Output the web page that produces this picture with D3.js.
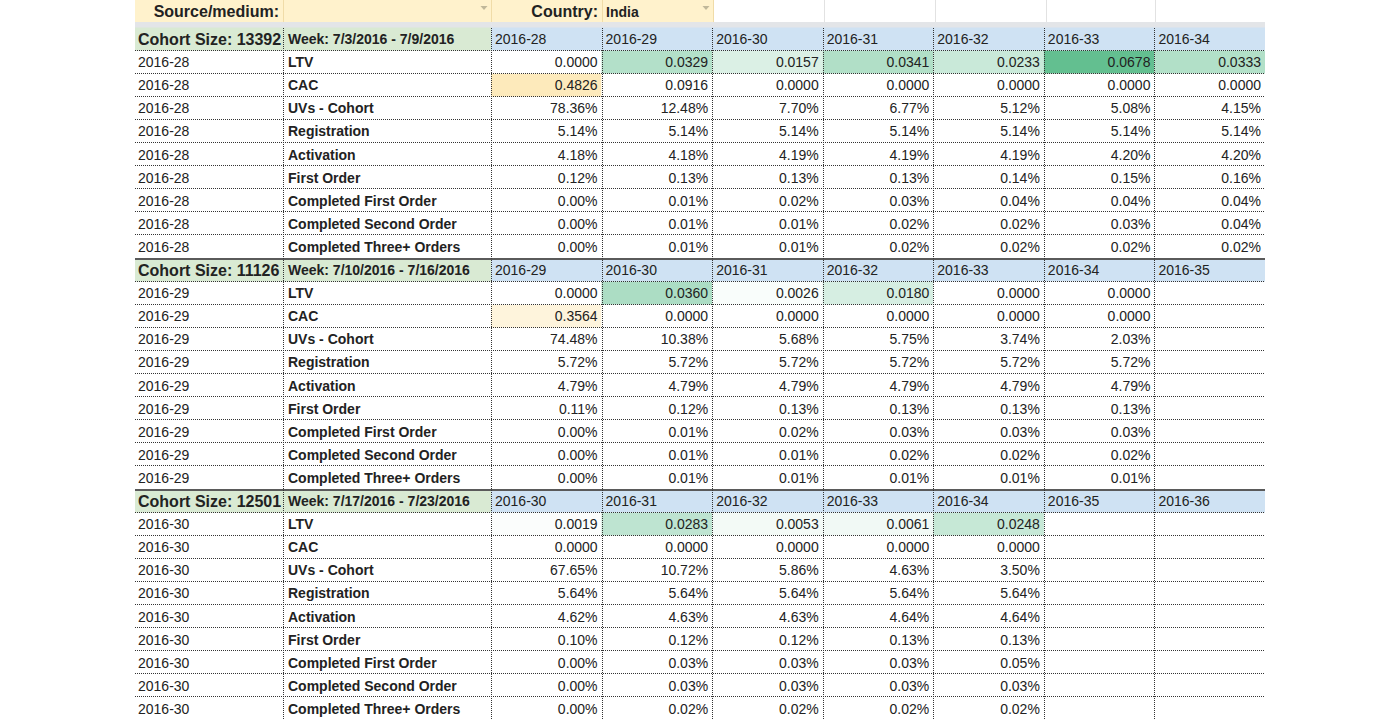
<!DOCTYPE html>
<html>
<head>
<meta charset="utf-8">
<script src="https://cdn.jsdelivr.net/npm/d3@7"></script>
<style>
  body { margin: 0; background: #fff; }
  text { font-family: "Liberation Sans", Arial, sans-serif; font-size: 14px; fill: #222; }
</style>
</head>
<body>
<script>
var width = 1400,
    height = 720;

//cohort blocks
var cohorts = ["2016-28", "2016-29", "2016-30"];
var cohortSizes = [13392, 11126, 12501];
var weekRanges = ["7/3/2016 - 7/9/2016", "7/10/2016 - 7/16/2016", "7/17/2016 - 7/23/2016"];
var weekCols = [
  ["2016-28", "2016-29", "2016-30", "2016-31", "2016-32", "2016-33", "2016-34"],
  ["2016-29", "2016-30", "2016-31", "2016-32", "2016-33", "2016-34", "2016-35"],
  ["2016-30", "2016-31", "2016-32", "2016-33", "2016-34", "2016-35", "2016-36"]
];
var metrics = ["LTV", "CAC", "UVs - Cohort", "Registration", "Activation", "First Order",
               "Completed First Order", "Completed Second Order", "Completed Three+ Orders"];

//values per metric, one list per cohort
var ltv = [[0.0000, 0.0329, 0.0157, 0.0341, 0.0233, 0.0678, 0.0333],
           [0.0000, 0.0360, 0.0026, 0.0180, 0.0000, 0.0000],
           [0.0019, 0.0283, 0.0053, 0.0061, 0.0248]];
var cac = [[0.4826, 0.0916, 0, 0, 0, 0, 0],
           [0.3564, 0, 0, 0, 0, 0],
           [0, 0, 0, 0, 0]];
var uvs = [[78.36, 12.48, 7.70, 6.77, 5.12, 5.08, 4.15],
           [74.48, 10.38, 5.68, 5.75, 3.74, 2.03],
           [67.65, 10.72, 5.86, 4.63, 3.50]];
var registration = [[5.14, 5.14, 5.14, 5.14, 5.14, 5.14, 5.14],
                    [5.72, 5.72, 5.72, 5.72, 5.72, 5.72],
                    [5.64, 5.64, 5.64, 5.64, 5.64]];
var activation = [[4.18, 4.18, 4.19, 4.19, 4.19, 4.20, 4.20],
                  [4.79, 4.79, 4.79, 4.79, 4.79, 4.79],
                  [4.62, 4.63, 4.63, 4.64, 4.64]];
var firstOrder = [[0.12, 0.13, 0.13, 0.13, 0.14, 0.15, 0.16],
                  [0.11, 0.12, 0.13, 0.13, 0.13, 0.13],
                  [0.10, 0.12, 0.12, 0.13, 0.13]];
var completedFirst = [[0.00, 0.01, 0.02, 0.03, 0.04, 0.04, 0.04],
                      [0.00, 0.01, 0.02, 0.03, 0.03, 0.03],
                      [0.00, 0.03, 0.03, 0.03, 0.05]];
var completedSecond = [[0.00, 0.01, 0.01, 0.02, 0.02, 0.03, 0.04],
                       [0.00, 0.01, 0.01, 0.02, 0.02, 0.02],
                       [0.00, 0.03, 0.03, 0.03, 0.03]];
var completedThree = [[0.00, 0.01, 0.01, 0.02, 0.02, 0.02, 0.02],
                      [0.00, 0.01, 0.01, 0.01, 0.01, 0.01],
                      [0.00, 0.02, 0.02, 0.02, 0.02]];

var metricValues = [ltv, cac, uvs, registration, activation, firstOrder,
                    completedFirst, completedSecond, completedThree];
var isPercent = [false, false, true, true, true, true, true, true, true];

//layout
var left = 135, col1 = 283, col2 = 491, right = 1265;
var rowsPerBlock = metrics.length + 1;

var svg = d3.select("body").append("svg")
    .attr("width", width)
    .attr("height", height);

var x = d3.scaleBand().domain(d3.range(7)).range([col2, right]).paddingInner(0).paddingOuter(0);
var y = d3.scaleBand().domain(d3.range(rowsPerBlock * cohorts.length)).range([27.5, 720.5]);

var ltvColor = d3.scaleLinear().domain([0, d3.max(ltv.flat())]).range(["#ffffff", "#63bf90"]);
var cacColor = d3.scaleLinear().domain([0.22, d3.max(cac.flat())]).range(["#ffffff", "#fdeabb"]).clamp(true);

// ================ filter row ================
var filterRow = svg.append("g");
filterRow.append("rect").attr("x", left).attr("y", 0).attr("width", 713 - left).attr("height", 22).attr("fill", "#fff2cc");
filterRow.append("rect").attr("x", left).attr("y", 22).attr("width", right - left).attr("height", 6).attr("fill", "#e3e5e8");
[283, 491, 602, 713, 824, 935, 1046, 1155].forEach(function(cx) {
  filterRow.append("line").attr("x1", cx + 0.5).attr("x2", cx + 0.5).attr("y1", 0).attr("y2", 22)
     .attr("stroke", cx <= 713 ? "#f0dca8" : "#e2e2e2");
});
filterRow.append("text").attr("x", 279).attr("y", 17).attr("text-anchor", "end")
   .attr("font-weight", "bold").style("font-size", "16px").text("Source/medium:");
filterRow.append("text").attr("x", 598).attr("y", 17).attr("text-anchor", "end")
   .attr("font-weight", "bold").style("font-size", "16px").text("Country:");
filterRow.append("text").attr("x", 606).attr("y", 17).attr("font-weight", "bold").text("India");
[484, 706].forEach(function(tx) {
  filterRow.append("path").attr("d", "M" + (tx - 3.5) + ",6 L" + (tx + 3.5) + ",6 L" + tx + ",10 Z").attr("fill", "#c0b89a");
});

// ================ cohort blocks ================
var body = svg.append("g");
cohorts.forEach(function(cohort, b) {
  var r0 = b * rowsPerBlock;
  var hy = y(r0), hh = y.bandwidth();

  //header row
  body.append("rect").attr("x", left).attr("y", hy).attr("width", col2 - left).attr("height", hh).attr("fill", "#d9ead3");
  body.append("rect").attr("x", col2).attr("y", hy).attr("width", right - col2).attr("height", hh).attr("fill", "#cfe2f3");
  body.append("text").attr("x", 138).attr("y", hy + hh / 2 + 6)
      .attr("font-weight", "bold").style("font-size", "16px").text("Cohort Size: " + cohortSizes[b]);
  body.append("text").attr("x", 288).attr("y", hy + hh / 2 + 5)
      .attr("font-weight", "bold").text("Week: " + weekRanges[b]);
  body.selectAll(null).data(weekCols[b]).enter().append("text")
      .attr("x", function(d, i) { return x(i) + 4; })
      .attr("y", hy + hh / 2 + 5)
      .text(function(d) { return d; });

  //metric rows
  metrics.forEach(function(m, k) {
    var ry = y(r0 + 1 + k);
    var vals = metricValues[k][b];
    body.selectAll(null).data(vals).enter().append("rect")
        .attr("x", function(d, i) { return x(i); })
        .attr("y", ry)
        .attr("width", x.bandwidth())
        .attr("height", y.bandwidth())
        .attr("fill", function(d) { return k === 0 ? ltvColor(d) : (k === 1 ? cacColor(d) : "#fff"); });
    body.append("text").attr("x", 138).attr("y", ry + y.bandwidth() / 2 + 5).text(cohort);
    body.append("text").attr("x", 288).attr("y", ry + y.bandwidth() / 2 + 5).attr("font-weight", "bold").text(m);
    body.selectAll(null).data(vals).enter().append("text")
        .attr("x", function(d, i) { return x(i) + x.bandwidth() - 4; })
        .attr("y", ry + y.bandwidth() / 2 + 5)
        .attr("text-anchor", "end")
        .text(function(d) { return isPercent[k] ? d.toFixed(2) + "%" : d.toFixed(4); });
  });
});

// ================ grid lines ================
var grid = svg.append("g");
var nRows = rowsPerBlock * cohorts.length;
d3.range(nRows).forEach(function(r) {
  var yy = Math.round(y(r) + y.bandwidth()) - 0.5;
  if (r === nRows - 1) return;
  var thick = (r + 1) % rowsPerBlock === 0;
  grid.append("line").attr("x1", left).attr("x2", right).attr("y1", thick ? yy + 0.5 : yy).attr("y2", thick ? yy + 0.5 : yy)
      .attr("stroke", thick ? "#5a5a5a" : "#333")
      .attr("stroke-width", thick ? 2 : 1)
      .attr("stroke-dasharray", thick ? null : "1,1");
});
[col1, col2].concat(d3.range(1, 7).map(function(i) { return Math.round(x(i)); })).forEach(function(cx) {
  grid.append("line").attr("x1", cx + 0.5).attr("x2", cx + 0.5).attr("y1", 28).attr("y2", height)
      .attr("stroke", "#333").attr("stroke-dasharray", "1,1");
});
</script>
</body>
</html>
